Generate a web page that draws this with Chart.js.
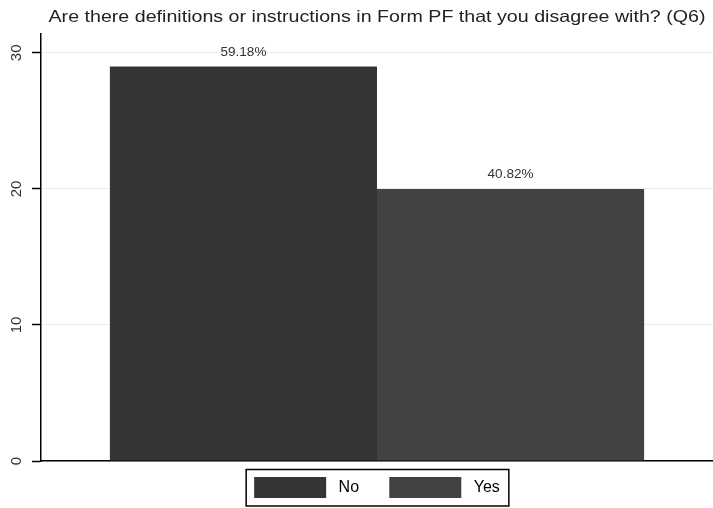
<!DOCTYPE html>
<html>
<head>
<meta charset="utf-8">
<script src="https://cdn.jsdelivr.net/npm/chart.js@4"></script>
<style>
  html, body { margin: 0; padding: 0; background: #fff; }
  #wrap { width: 713px; height: 508px; }
</style>
</head>
<body>
<div id="wrap"><canvas id="chart"></canvas></div>
<script>
const titleText = "Are there definitions or instructions in Form PF that you disagree with? (Q6)";
const categories = [""];
const seriesNames = ["No", "Yes"];
const counts = [29, 20];
const percentLabels = ["59.18%", "40.82%"];
const yTicks = [0, 10, 20, 30];
const yMax = 31.4;
const barColors = ["#353535", "#424242"];

const fontFam = "'Liberation Sans', Arial, sans-serif";
const titleStretch = 1.19;
const labelStretch = 1.13;

// percentage text above each bar
const barLabels = {
  id: "barLabels",
  afterDatasetsDraw(chart) {
    const ctx = chart.ctx;
    chart.data.datasets.forEach(function (ds, i) {
      chart.getDatasetMeta(i).data.forEach(function (bar) {
        ctx.save();
        ctx.translate(bar.x, 0);
        ctx.scale(labelStretch, 1);
        ctx.font = "12px " + fontFam;
        ctx.fillStyle = "#333";
        ctx.textAlign = "center";
        ctx.textBaseline = "bottom";
        ctx.fillText(percentLabels[i], 0, bar.y - 8);
        ctx.restore();
      });
    });
  }
};

// the title in the picture is drawn a little wider than the font
const stretchTitle = {
  id: "stretchTitle",
  beforeDraw(chart) {
    const tb = chart.titleBlock;
    if (!tb || tb._stretched) return;
    const orig = tb.draw.bind(tb);
    tb.draw = function () {
      const c = chart.ctx;
      const cx = tb.left + tb.width / 2;
      c.save();
      c.translate(cx, 0);
      c.scale(titleStretch, 1);
      c.translate(-cx, 0);
      orig();
      c.restore();
    };
    tb._stretched = true;
  }
};

// black frame round the legend items
const legendFrame = {
  id: "legendFrame",
  afterDraw(chart) {
    const boxes = chart.legend.legendHitBoxes;
    if (!boxes || !boxes.length) return;
    const first = boxes[0];
    const last = boxes[boxes.length - 1];
    const ctx = chart.ctx;
    ctx.save();
    ctx.strokeStyle = "#000";
    ctx.lineWidth = 1.5;
    ctx.strokeRect(first.left - 8, first.top - 7.5, last.left + last.width - first.left + 17, first.height + 15.5);
    ctx.restore();
  }
};

const ctx = document.getElementById("chart").getContext("2d");
const myChart = new Chart(ctx, {
  type: "bar",
  data: {
    labels: categories,
    datasets: seriesNames.map(function (name, i) {
      return {
        label: name,
        data: [counts[i]],
        backgroundColor: barColors[i],
        borderWidth: 0,
        barPercentage: 1,
        categoryPercentage: 0.795
      };
    })
  },
  options: {
    responsive: true,
    maintainAspectRatio: false,
    animation: false,
    layout: { padding: { left: 0, right: 0, top: 0, bottom: 0 } },
    plugins: {
      title: {
        display: true,
        text: titleText,
        fullSize: false,
        color: "#222",
        font: { family: fontFam, size: 16.5, weight: "normal" },
        padding: { top: 8, bottom: 6 }
      },
      legend: {
        display: true,
        position: "bottom",
        fullSize: false,
        labels: {
          boxWidth: 72,
          boxHeight: 21,
          color: "#111",
          font: { family: fontFam, size: 16 },
          padding: 8,
          generateLabels: function (chart) {
            const n = chart.data.datasets.length;
            return chart.data.datasets.map(function (ds, i) {
              return {
                text: " " + ds.label + (i < n - 1 ? "     " : ""),
                fillStyle: ds.backgroundColor,
                strokeStyle: ds.backgroundColor,
                lineWidth: 0,
                hidden: false,
                datasetIndex: i
              };
            });
          }
        }
      },
      tooltip: { enabled: false }
    },
    scales: {
      x: {
        grid: { display: false },
        ticks: { display: false },
        border: { display: true, color: "#000", width: 1.5 }
      },
      y: {
        min: 0,
        max: yMax,
        afterBuildTicks: function (scale) {
          scale.ticks = yTicks.map(function (v) { return { value: v }; });
        },
        grid: {
          color: "#ececec",
          lineWidth: 1,
          tickColor: "#000",
          tickLength: 9,
          tickWidth: 1.5
        },
        border: { display: true, color: "#000", width: 1.5 },
        ticks: {
          color: "#333",
          font: { family: fontFam, size: 15 },
          minRotation: 90,
          maxRotation: 90,
          crossAlign: "center",
          padding: 7
        }
      }
    }
  },
  plugins: [stretchTitle, barLabels, legendFrame]
});
</script>
</body>
</html>
